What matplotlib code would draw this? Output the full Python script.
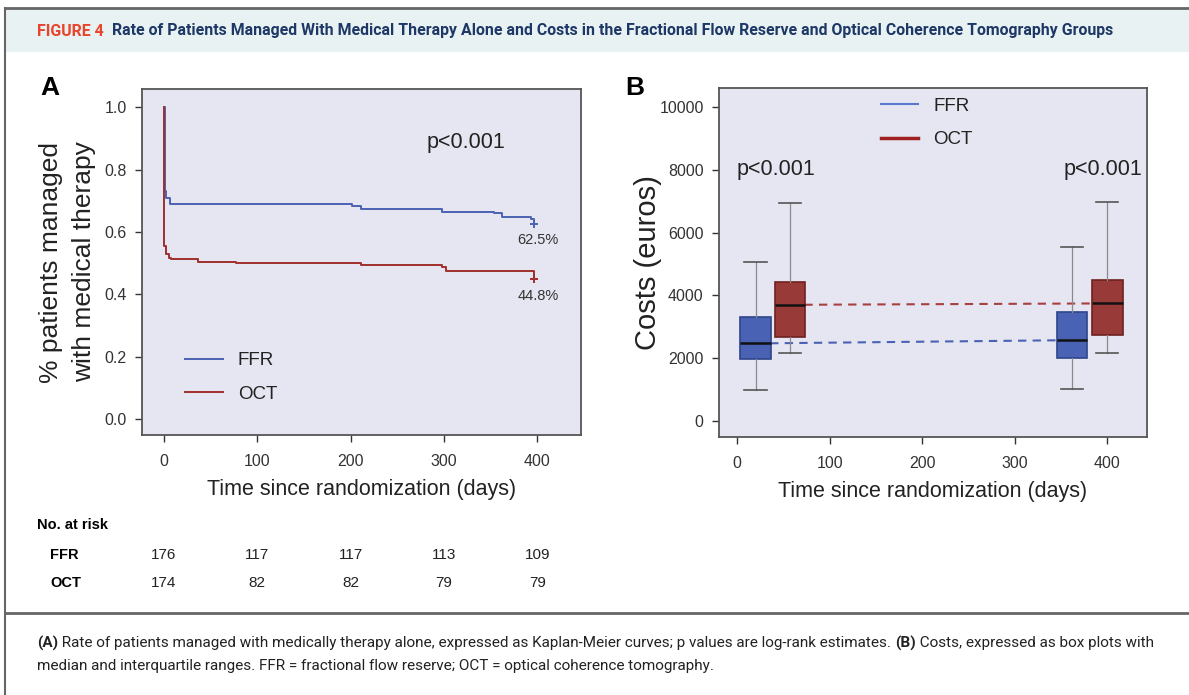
import matplotlib
matplotlib.use("Agg")
import matplotlib.pyplot as plt
from matplotlib.lines import Line2D
from matplotlib.patches import Rectangle

# Kaplan-Meier steps (days, fraction still on medical therapy)
ffr_t = [0, 1, 2, 6, 202, 211, 298, 354, 362, 393, 397]
ffr_s = [1.0, 0.731, 0.71, 0.689, 0.682, 0.672, 0.665, 0.660, 0.647, 0.640, 0.625]
oct_t = [0, 0.5, 2.5, 5, 8, 36, 77, 211, 298, 302, 397]
oct_s = [1.0, 0.555, 0.528, 0.517, 0.512, 0.505, 0.500, 0.494, 0.486, 0.475, 0.448]

# number at risk
risk_days = [0, 100, 200, 300, 400]
risk_ffr = [176, 117, 117, 113, 109]
risk_oct = [174, 82, 82, 79, 79]

# costs box plots (euros): low whisker, Q1, median, Q3, high whisker
box_pos_ffr = [20, 362]
box_pos_oct = [57, 400]
ffr_low = [980, 1010]
ffr_q1 = [1970, 2020]
ffr_med = [2470, 2575]
ffr_q3 = [3320, 3460]
ffr_high = [5060, 5530]
oct_low = [2150, 2180]
oct_q1 = [2680, 2735]
oct_med = [3700, 3745]
oct_q3 = [4415, 4490]
oct_high = [6950, 6990]

BLUE = "#4a62b3"
RED = "#a02e2c"
BG = "#e6e6f2"
SPINE = "#555555"
NARROW = ["Roboto", "DejaVu Sans"]

plt.rcParams["font.family"] = ["Liberation Sans", "DejaVu Sans"]

fig = plt.figure(figsize=(11.89, 6.95), dpi=100)
r = fig.canvas.get_renderer()

# frame, header band, caption rule
fig.patches.append(Rectangle((5 / 1189, 1 - 52 / 695), 1, 44 / 695, transform=fig.transFigure,
                             facecolor="#e9f2f2", edgecolor="none", zorder=0))
fig.add_artist(Line2D([5 / 1189, 1], [1 - 8 / 695] * 2, color="#666666", lw=2))
fig.add_artist(Line2D([5 / 1189] * 2, [0, 1 - 8 / 695], color="#666666", lw=1.5))
fig.add_artist(Line2D([5 / 1189, 1], [1 - 613 / 695] * 2, color="#666666", lw=2))


def run_text(x_px, y_px, pieces, size):
    # writes consecutive pieces of text on one line, returns end x
    x = x_px
    arts = []
    for txt, color, weight in pieces:
        t = fig.text(x / 1189, 1 - y_px / 695, txt, color=color, fontweight=weight,
                     fontsize=size, family=NARROW, va="center", ha="left")
        arts.append(t)
        x += t.get_window_extent(r).width
    return x, arts


def fitted(x_px, y_px, pieces, size, x_end):
    end, arts = run_text(x_px, y_px, pieces, size)
    for a in arts:
        a.remove()
    new = size * (x_end - x_px) / (end - x_px)
    run_text(x_px, y_px, pieces, new)
    return new


fitted(37, 31, [("FIGURE 4", "#e8452c", "bold"), ("  ", "k", "normal"),
                ("Rate of Patients Managed With Medical Therapy Alone and Costs in the Fractional "
                 "Flow Reserve and Optical Coherence Tomography Groups", "#1d3866", "bold")], 10, 1112)
cap = fitted(37, 643, [("(A)", "#222222", "bold"),
                       (" Rate of patients managed with medically therapy alone, expressed as Kaplan-Meier "
                        "curves; p values are log-rank estimates. ", "#222222", "normal"),
                       ("(B)", "#222222", "bold"),
                       (" Costs, expressed as box plots with", "#222222", "normal")], 10, 1155)
run_text(37, 666, [("median and interquartile ranges. FFR = fractional flow reserve; "
                    "OCT = optical coherence tomography.", "#222222", "normal")], cap)

# ---------- panel A ----------
ax = fig.add_axes([0.1194, 0.3741, 0.3693, 0.4978])
ax.set_facecolor(BG)
ax.step(ffr_t, ffr_s, where="post", color=BLUE, lw=1.4, label="FFR")
ax.step(oct_t, oct_s, where="post", color=RED, lw=1.4, label="OCT")
ax.plot(ffr_t[-1], ffr_s[-1], marker="+", color=BLUE, ms=6, mew=1.4)
ax.plot(oct_t[-1], oct_s[-1], marker="+", color=RED, ms=6, mew=1.4)
ax.text(ffr_t[-1] + 4, ffr_s[-1] - 0.052, f"{ffr_s[-1] * 100:.1f}%", ha="center", va="center",
        fontsize=10.5, color="#333333")
ax.text(oct_t[-1] + 4, oct_s[-1] - 0.052, f"{oct_s[-1] * 100:.1f}%", ha="center", va="center",
        fontsize=10.5, color="#333333")
ax.text(324, 0.885, "p<0.001", fontsize=15.5, ha="center", va="center", color="#222222")
ax.set_xlim(-23.6, 447)
ax.set_ylim(-0.051, 1.058)
ax.set_xticks(risk_days)
ax.set_yticks([0, 0.2, 0.4, 0.6, 0.8, 1.0])
ax.set_yticklabels([f"{v:.1f}" for v in [0, 0.2, 0.4, 0.6, 0.8, 1.0]])
ax.tick_params(direction="out", length=5, width=1, colors="#333333", labelsize=11.5, pad=6)
ax.tick_params(axis="x", pad=9)
for s in ax.spines.values():
    s.set_color(SPINE)
    s.set_linewidth(1.3)
ax.set_xlabel("Time since randomization (days)", fontsize=15.5, color="#222222", labelpad=7)
ax.set_ylabel("% patients managed\nwith medical therapy", fontsize=19, color="#222222",
              labelpad=6, linespacing=1.45)
ax.legend(loc="lower left", bbox_to_anchor=(0.06, 0.045), frameon=False, fontsize=13.5,
          handlelength=2.0, handletextpad=0.8, labelspacing=0.85, labelcolor="#222222")
fig.text(50 / 1189, 1 - 88 / 695, "A", fontsize=19, fontweight="bold", ha="center", va="center")

# number at risk table
xform = ax.get_xaxis_transform()
fig.text(37 / 1189, 1 - 525 / 695, "No. at risk", fontsize=10.5, fontweight="bold", va="center")
fig.text(50 / 1189, 1 - 555 / 695, "FFR", fontsize=10.5, fontweight="bold", va="center")
fig.text(50 / 1189, 1 - 583 / 695, "OCT", fontsize=10.5, fontweight="bold", va="center")
for d, nf, no in zip(risk_days, risk_ffr, risk_oct):
    ax.text(d, (435 - 555) / 346, str(nf), transform=xform, ha="center", va="center",
            fontsize=11, color="#222222", clip_on=False)
    ax.text(d, (435 - 583) / 346, str(no), transform=xform, ha="center", va="center",
            fontsize=11, color="#222222", clip_on=False)

# ---------- panel B ----------
bx = fig.add_axes([0.6047, 0.3712, 0.36, 0.5022])
bx.set_facecolor(BG)
bx.plot([box_pos_ffr[0], box_pos_ffr[1]], ffr_med, ls=(0, (4, 3)), color=BLUE, lw=1.5, zorder=1)
bx.plot([box_pos_oct[0], box_pos_oct[1]], oct_med, ls=(0, (4, 3)), color="#a84040", lw=1.5, zorder=1)


def stats(low, q1, med, q3, high):
    return [dict(whislo=a, q1=b, med=c, q3=d, whishi=e, fliers=[])
            for a, b, c, d, e in zip(low, q1, med, q3, high)]


for st, pos, fc, ec in [(stats(ffr_low, ffr_q1, ffr_med, ffr_q3, ffr_high), box_pos_ffr, BLUE, "#2f448a"),
                        (stats(oct_low, oct_q1, oct_med, oct_q3, oct_high), box_pos_oct, "#983a38", "#6e2220")]:
    bx.bxp(st, positions=pos, widths=33, capwidths=24, patch_artist=True, manage_ticks=False,
           boxprops=dict(facecolor=fc, edgecolor=ec, lw=1.2),
           medianprops=dict(color="#111111", lw=1.8),
           whiskerprops=dict(color="#8a8a8a", lw=0.9),
           capprops=dict(color="#555555", lw=1.2), zorder=3)

bx.plot([], [], color="#5a78d0", lw=1.5, label="FFR")
bx.plot([], [], color="#a02020", lw=2.5, label="OCT")
bx.legend(loc="upper center", bbox_to_anchor=(0.485, 1.02), frameon=False, fontsize=13.5,
          handlelength=2.0, handletextpad=0.8, labelspacing=0.85, labelcolor="#222222")
bx.text(0, 8000, "p<0.001", fontsize=15.5, ha="left", va="center", color="#222222")
bx.text(353, 8000, "p<0.001", fontsize=15.5, ha="left", va="center", color="#222222")
bx.set_xlim(-19.5, 443)
bx.set_ylim(-510, 10605)
bx.set_xticks([0, 100, 200, 300, 400])
bx.set_yticks([0, 2000, 4000, 6000, 8000, 10000])
bx.tick_params(direction="out", length=5, width=1, colors="#333333", labelsize=11.5, pad=6)
bx.tick_params(axis="x", pad=9)
for s in bx.spines.values():
    s.set_color(SPINE)
    s.set_linewidth(1.3)
bx.set_xlabel("Time since randomization (days)", fontsize=15.5, color="#222222", labelpad=7)
bx.set_ylabel("Costs (euros)", fontsize=21, color="#222222", labelpad=-2)
fig.text(635 / 1189, 1 - 88 / 695, "B", fontsize=19, fontweight="bold", ha="center", va="center")

fig.savefig("out.png", dpi=100, facecolor="white")
